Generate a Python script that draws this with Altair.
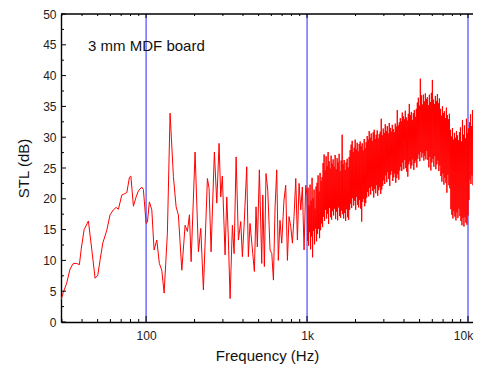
import altair as alt
import numpy as np
import pandas as pd

# ---- data ----
# low-frequency part (Hz, dB)
lf_freq = [29.6, 30.6, 32.1, 33.7, 35.3, 37.1, 38.5, 39.6, 41.2, 43.8,
           46.0, 48.2, 50.1, 51.8, 53.8, 57.0, 59.7, 62.6, 65.1, 67.3,
           70.6, 73.3, 75.9, 78.8, 80.4, 83.4, 86.7, 89.6, 94.0, 96.2,
           100.0, 101.9, 104.8, 108.5, 112.1, 116.5, 120.9, 125.2, 129.4, 135.6,
           140.9, 147.8, 153.6, 158.7, 166.7, 174.7, 180.6, 185.9, 190.4, 201.5,
           211.3, 218.6, 227.0, 240.4, 246.2, 253.4, 259.5, 265.6, 274.9, 284.0,
           290.9, 297.7, 309.5, 317.2, 324.6, 332.5, 343.6, 352.2, 362.5, 374.4,
           387.3, 396.4, 406.0, 422.0, 431.8, 442.4, 460.0, 470.6, 482.0, 491.0,
           505.5, 523.0, 531.0, 543.0, 556.0, 570.0, 589.0, 604.0, 618.0, 633.0,
           648.0, 663.0, 679.0, 696.0, 719.0, 737.0, 755.0, 773.0, 792.0, 811.0,
           830.0, 851.0, 871.0, 892.0, 914.0, 935.0, 958.0, 981.0]
lf_stl = [3.6, 4.8, 6.3, 8.6, 9.5, 9.5, 9.3, 12.0, 15.0, 16.4,
          11.7, 7.1, 7.6, 10.1, 12.8, 14.9, 17.4, 18.2, 18.6, 18.3,
          20.6, 20.8, 21.0, 23.5, 23.7, 18.8, 20.3, 21.3, 21.9, 21.5,
          16.0, 16.2, 19.5, 18.2, 11.7, 13.3, 9.5, 8.4, 4.7, 14.4,
          33.9, 23.6, 18.7, 17.4, 8.4, 15.7, 14.7, 17.4, 9.8, 27.6,
          11.4, 15.2, 5.2, 23.3, 21.7, 11.4, 19.8, 27.6, 19.3, 29.0,
          20.3, 23.7, 10.9, 20.3, 13.3, 3.8, 15.7, 11.1, 26.8, 13.3,
          16.3, 10.6, 15.5, 25.2, 10.6, 16.0, 11.1, 8.2, 18.7, 12.2,
          24.7, 9.5, 20.6, 9.0, 24.1, 21.4, 11.7, 11.1, 6.8, 18.7,
          24.7, 10.0, 16.5, 12.8, 19.8, 22.2, 10.0, 17.1, 15.5, 12.8,
          17.1, 23.3, 13.3, 22.5, 18.2, 21.9, 11.7, 22.2]

# dense high-frequency part, 1 kHz .. 11.7 kHz (dB)
hf_start, hf_stop = 1000.0, 11700.0
hf_stl = [
    20.5, 13.2, 21.8, 12.4, 18.9, 14.6, 22.3, 11.8, 19.7, 13.9,
    23.4, 10.5, 20.1, 14.8, 21.5, 12.6, 18.4, 15.2, 22.0, 13.1,
    22.6, 14.3, 23.8, 15.1, 21.2, 13.6, 24.2, 14.9, 22.9, 16.0, 23.5, 15.4,
    25.8, 17.1, 27.2, 16.4, 24.6, 18.2, 26.9, 16.8, 25.3, 17.6,
    27.6, 15.9, 26.1, 18.5, 24.9, 17.0, 27.0, 16.6, 25.7, 18.0,
    26.4, 17.3, 25.2, 18.4, 27.1, 16.7, 24.8, 17.9, 26.6, 16.5,
    25.9, 18.6, 27.3, 17.2, 24.5, 16.9, 26.2, 18.1, 30.4, 17.5,
    25.6, 16.8, 26.3, 17.7, 24.7, 16.4, 25.9, 18.3, 26.5, 17.0, 25.1, 16.6, 26.8, 18.2,
    27.9, 19.2, 28.8, 18.5, 29.4, 20.1, 27.6, 18.9, 28.3, 19.7,
    29.6, 18.2, 28.0, 20.3, 29.1, 19.0, 27.7, 18.6, 28.9, 19.8,
    29.3, 18.4, 28.5, 16.3, 29.0, 19.5, 27.8, 20.0, 29.7, 18.8,
    28.2, 19.3, 29.2, 20.2,
    30.2, 21.1, 29.6, 20.4, 31.0, 21.8, 29.9, 20.7, 30.6, 22.0,
    29.4, 21.3, 30.8, 20.2, 31.2, 21.6, 29.7, 20.9, 30.4, 22.2,
    31.1, 20.5, 29.8, 21.4, 30.5, 21.9, 30.9, 20.8, 33.0, 21.5,
    30.3, 22.1,
    31.4, 23.0, 30.7, 22.4, 32.1, 23.8, 31.0, 22.7, 31.8, 24.3,
    30.6, 23.2, 32.3, 22.1, 31.5, 23.9, 30.9, 24.5, 32.0, 22.9,
    31.3, 23.5, 30.8, 24.1, 32.2, 22.6, 31.7, 23.4, 34.4, 24.0,
    31.9, 23.1, 32.4, 24.6,
    33.1, 25.2, 32.6, 24.5, 34.0, 25.9, 33.4, 24.8, 32.9, 26.3,
    34.3, 25.0, 33.2, 24.4, 32.7, 23.6, 33.8, 25.6, 35.4, 26.1,
    33.6, 24.9, 34.1, 25.4, 32.8, 26.4, 33.9, 24.7, 34.4, 25.8,
    33.3, 26.2, 34.6, 25.1,
    35.6, 26.5, 36.4, 27.2, 35.1, 26.1, 39.5, 27.6, 36.8, 26.7,
    35.3, 27.4, 36.9, 26.2, 35.8, 27.0, 37.1, 26.4, 36.2, 27.8,
    36.5, 26.3, 35.2, 25.1, 36.9, 26.8, 35.7, 24.6, 37.2, 25.9,
    39.3, 26.5, 36.1, 25.2, 35.4, 26.9, 36.7, 24.8, 35.9, 25.6,
    37.0, 26.2, 35.5, 24.5, 36.3, 25.4,
    34.6, 23.7, 33.5, 22.8, 35.0, 24.1, 33.9, 22.3, 34.2, 23.4,
    33.1, 22.6, 34.8, 21.0, 33.6, 23.9, 32.9, 22.2, 33.8, 21.7,
    31.2, 18.3, 30.1, 17.4, 31.5, 16.8, 29.6, 18.0, 30.7, 17.1,
    29.9, 16.5, 31.0, 17.8, 30.3, 16.9, 29.5, 18.4, 30.8, 17.2,
    31.6, 16.4, 29.3, 15.7, 32.8, 16.9, 30.4, 15.5, 31.9, 17.0,
    29.8, 16.1, 33.0, 15.8, 30.6, 17.3, 31.4, 19.8,
    32.4, 23.1, 33.7, 22.4, 31.8, 23.8, 34.4, 22.2, 32.9, 23.5,
    33.4, 22.7, 31.6, 24.0, 34.0, 22.9, 32.6, 23.3, 33.2, 22.5,
]
hf_freq = list(np.geomspace(hf_start, hf_stop, len(hf_stl)))

x_min, x_max = 29.6, 10740.0   # visible part of the axis (right side is cut off)
y_min, y_max = 0, 50
decades = [100, 1000, 10000]
minor_x = [30, 40, 50, 60, 70, 80, 90, 200, 300, 400, 500, 600, 700, 800, 900,
           2000, 3000, 4000, 5000, 6000, 7000, 8000, 9000]
major_y = list(range(0, 51, 5))
minor_y = [v + 2.5 for v in range(0, 50, 5)]
annotation = "3 mm MDF board"
annot_x, annot_y = 43.6, 44.8

df = pd.DataFrame({"freq": lf_freq + hf_freq, "stl": lf_stl + hf_stl})

FONT = "Liberation Sans"
xscale = alt.Scale(type="log", domain=[x_min, x_max], nice=False)
yscale = alt.Scale(domain=[y_min, y_max], nice=False)
XT = "Frequency (Hz)"
YT = "STL (dB)"

label_expr = "datum.value >= 10000 ? '10k' : (datum.value >= 1000 ? '1k' : '100')"
x_axis = alt.Axis(values=decades, labelExpr=label_expr, ticks=False, grid=False,
                  labelPadding=8, titlePadding=7, domainWidth=1.6, labelOverlap=False,
                  labelOffset={"condition": {"test": "datum.value >= 10000", "value": -5}, "value": 0},
                  title=XT)
y_axis = alt.Axis(values=major_y, ticks=False, grid=False, labelOverlap=False,
                  labelPadding=5, titlePadding=11, domainWidth=1.4, title=YT)


def X(**kw):
    return alt.X(scale=xscale, axis=x_axis, **kw)


def Y(**kw):
    return alt.Y(scale=yscale, axis=y_axis, **kw)


line = alt.Chart(df).mark_line(color="#ff0000", strokeWidth=1, clip=True).encode(
    x=X(field="freq", type="quantitative"),
    y=Y(field="stl", type="quantitative"),
)

blue = alt.Chart(pd.DataFrame({"f": decades})).mark_rule(color="#4a4aff", strokeWidth=1.2).encode(
    x=X(field="f", type="quantitative")
)


def xticks(vals, size, at, direction):
    return alt.Chart(pd.DataFrame({"f": vals})).mark_rule(
        color="black", strokeWidth=1, y2Offset=direction * size, clip=True
    ).encode(x=X(field="f", type="quantitative"), y=Y(datum=at), y2=alt.Y2(datum=at))


def yticks(vals, size):
    return alt.Chart(pd.DataFrame({"v": vals})).mark_rule(
        color="black", strokeWidth=1, x2Offset=size
    ).encode(y=Y(field="v", type="quantitative"), x=X(datum=x_min), x2=alt.X2(datum=x_min))


top_border = alt.Chart(pd.DataFrame({"v": [y_max]})).mark_rule(color="black", strokeWidth=1.4).encode(
    y=Y(field="v", type="quantitative"), x=X(datum=x_min), x2=alt.X2(datum=x_max)
)

text = alt.Chart(pd.DataFrame({"t": [annotation]})).mark_text(
    align="left", baseline="middle", fontSize=15, font=FONT, color="#111"
).encode(x=X(datum=annot_x), y=Y(datum=annot_y), text="t:N")

chart = alt.layer(
    blue, line,
    xticks(decades, 6, y_min, -1), xticks(minor_x, 3, y_min, -1),
    xticks(decades, 4, y_max, 1), xticks(minor_x, 2, y_max, 1),
    yticks(major_y, 5), yticks(minor_y, 3),
    top_border, text,
).properties(
    width=412, height=308,
    autosize=alt.AutoSizeParams(type="none"),
    padding={"left": 53, "top": 6, "right": 0, "bottom": 42},
).configure_view(stroke=None).configure_axis(
    labelFont=FONT, titleFont=FONT, labelFontSize=12, titleFontSize=15,
    titleFontWeight="normal", labelColor="#222", titleColor="#111", domainColor="black",
)

chart.save("out.html", embed_options={"renderer": "svg", "actions": False})
